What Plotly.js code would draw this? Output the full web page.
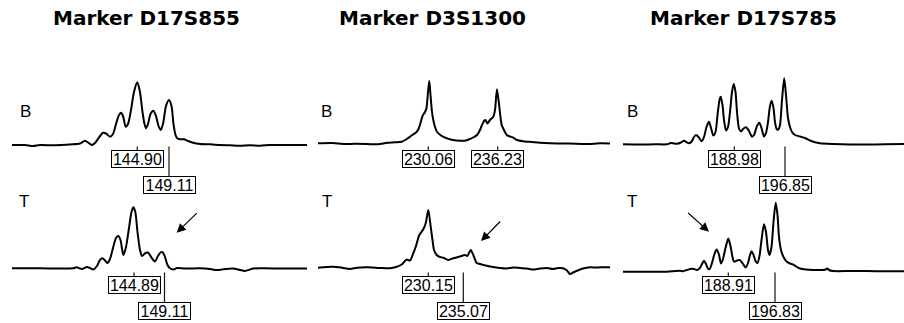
<!DOCTYPE html>
<html>
<head>
<meta charset="utf-8">
<script src="https://cdn.plot.ly/plotly-3.0.1.min.js"></script>
<style>html,body{margin:0;padding:0;background:#fff;}#chart{width:904px;height:323px;}</style>
</head>
<body>
<div id="chart"></div>
<script>
// ---- Data (scan position, signal) ----
const markers = ['Marker D17S855', 'Marker D3S1300', 'Marker D17S785'];
const rowNames = ['B', 'T'];

// Marker D17S855
const scanB1 = [12,25,33,40,55,70,80,85,88,91.7,95,100,103,106,110,113,116,119,121,123,125.7,128,131,134,137.3,140,142.5,144.5,146,148,150.5,153.3,156,158.5,160.7,163,166,169,171.5,173.5,175.5,177.3,180,184,188,193,200,210,220,230,240,250,260,270,280,290,307];
const sigB1 = [1,1,0,1,0.7,1.5,2.5,5.3,3.5,1,3,10,13.3,12.5,9.3,12,22,31,33.3,30,19.3,22,36,54,63.7,54,34,22,17.7,22,32,35.3,30,20,16,22,40,46,40,22,11,7.7,6.7,6.7,5,3.3,2,1.7,1,0.7,0.3,0.7,0.3,1,1,1,1];
const scanT1 = [12,40,73,76.7,80,82,87,90,93.3,97,100,102.3,105,107.3,110,113,116,118.3,120.5,123.3,126,129,131.5,133.3,135.3,137.5,140,142,145.5,148,151.7,155,158,160.5,162.7,165,167.5,170,173.3,177,185,200,210,216.7,225,233,240,245,250,253,265,280,300,307];
const sigT1 = [3.7,3.7,3.7,4.7,3.5,3,5,4,2.5,6,12,13.7,11.5,9,13,24,34,36,32,17,25,44,60,64.7,60,40,22,16,19,19.5,14,10.5,16,19.5,19.7,15,7,3.7,2.5,4,3.5,3.7,3,2,3,3.5,2,1,2.5,3.5,3.7,3.5,3.5,3.5];

// Marker D3S1300
const scanB2 = [318,333,343,355,367,378,387,395,401.7,406,410,413,416,418.5,420.5,422.5,425,426.5,428,429.3,430.5,432,433.3,435,437,441,446.7,453,460,466,470,474,477,480,482,484,485.5,487.3,490,493.3,495,497,499.3,501.7,504,506.7,510,513,517,523,530,540,550,570,587,600,610];
const sigB2 = [2.7,3,2,2.2,2,1.7,3.2,3.7,4.3,6.5,9.3,11.5,13.5,17,23,30,34,38,54,65,51,34,26,19,14.3,10.5,7.7,6,5.3,5.5,7,9,11,16,21,25,26,22.5,26,29.3,36,56.7,39.3,21,16,11,9.5,8.5,6,4.7,4.2,3.2,2.7,2.4,2,2.7,2.5];
const scanT2 = [318,333,342,350,357,367,380,390,396,401.7,405,406.7,410,413,416,419.3,423.3,425.7,428.3,430.7,432.5,434,436.7,440,443.3,448.3,453.3,460,465,467.3,470.7,473.3,476.7,480,486.7,493,500,506.7,513,520,527,533,540,547,553,558,563,567,570,573,577,583,590,596,600,610];
const sigT2 = [4.3,5.3,4.3,3,4.3,4.7,4,3.7,5,7.5,11,12.5,11.5,18,26,37,42.7,48.7,62,45.3,32,22,17,15,14.3,12,13.7,15.5,17,16,22,17,9,8,6.3,5,4,3.5,4.5,4,3.5,2.5,3.5,4,3,4,3.7,1.5,-2,-0.5,1.3,3.5,4.7,4.5,4.7,4.7];

// Marker D17S785
const scanB3 = [623,640,655,667,670.7,674,677,681,684,687,689,692,694,696,698.5,701.7,704,706.5,709,711,713.3,715.5,717.5,719.5,720.7,722.5,724,726,728,730,732,733.7,735.5,737,739,741,743,746,749,752,754,757,759.3,761.5,764,766,768,770,771.7,773.5,775,776.7,778.3,780,782,784.2,786,788,790,792,795,800,805,810,815,820,833,850,867,885,904];
const sigB3 = [1.7,1.5,1.7,1.7,3,2.5,2.2,3.5,5.3,3.5,2.7,5,9,11,9,4.7,9,19,24.3,18,10.5,14,31,46,49.3,41,26,15.5,19,34,54,62,54,34,17.5,14.5,17,18.7,15,9.3,11,20,23.3,18,9.5,13,24,40,45.3,38,24,17,16.5,21,46,67.7,51,28,19,14,11,9.5,8,5.5,3.7,2.7,2,1.5,1.5,1.7,2];
const scanT3 = [623,640,667,675,680,683,687,691.7,694,697,700,702,704,706,708,709.5,712,714.5,716.7,718.8,721,723,725.5,728.3,730.5,732.5,734,737,740,743,745.7,748,750,751.7,753.5,756,757.5,759.5,761.5,764,766,768,769.5,771.5,773.5,775.7,777.5,779,781,783.5,786.5,790,793.3,797,800,806,813,820,825,827.3,829,833,850,867,885,904];
const sigT3 = [0.3,0.3,0.3,1,1.3,0.8,2,3.3,3,2,4,8,11.2,8,3.5,2.8,9,18,22.5,18,8.5,13,24,33.5,26,15,10.3,11.5,11.8,8,4.5,9,17,20.7,17,10,9,16,32,47.7,40,22,17,25,50,69.3,57,35,22,15,10.5,8.5,7.3,5,3.5,2.5,2,2,2.2,3.5,2,1,1,1,0.7,0.7];

// Allele size labels: text, scan position, tier (0 = close, 1 = lower)
const sizeB1 = ['144.90','149.11'], posB1 = [137.3,169], tierB1 = [0,1];
const sizeT1 = ['144.89','149.11'], posT1 = [134,164.5], tierT1 = [0,1];
const sizeB2 = ['230.06','236.23'], posB2 = [428.3,497.7], tierB2 = [0,0];
const sizeT2 = ['230.15','235.07'], posT2 = [428.3,463.3], tierT2 = [0,1];
const sizeB3 = ['188.98','196.85'], posB3 = [734.3,785], tierB3 = [0,1];
const sizeT3 = ['188.91','196.83'], posT3 = [728.3,775], tierT3 = [0,1];

// Arrows in T rows: tip (scan, signal)
const arrowScan = [176.7, 481, 709];
const arrowSig = [39.3, 31, 40.3];

// ---- Build figure ----
const W = 904, H = 323;
const xa = ['x','x2','x3'];
const xDom = [[0,310],[298,612],[598,904]];
const lineStyle = {color:'#000', width:2, shape:'spline', smoothing:0.7};

const series = [
  [scanB1,sigB1,0,'y'],[scanT1,sigT1,0,'y2'],
  [scanB2,sigB2,1,'y'],[scanT2,sigT2,1,'y2'],
  [scanB3,sigB3,2,'y'],[scanT3,sigT3,2,'y2']
];
const data = series.map(s => ({
  x: s[0], y: s[1], xaxis: xa[s[2]], yaxis: s[3],
  type:'scatter', mode:'lines', line: lineStyle, hoverinfo:'skip', showlegend:false
}));

const labelFont = {family:'"Liberation Sans", Arial, sans-serif', size:16, color:'#000'};
const tierCenter = [-12.8, -38.5];
const tierTop = [-3.5, -29.3];

const annotations = [];
const shapes = [];
const labelSets = [
  [sizeB1,posB1,tierB1,0,'y'],[sizeT1,posT1,tierT1,0,'y2'],
  [sizeB2,posB2,tierB2,1,'y'],[sizeT2,posT2,tierT2,1,'y2'],
  [sizeB3,posB3,tierB3,2,'y'],[sizeT3,posT3,tierT3,2,'y2']
];
labelSets.forEach(ls => {
  ls[0].forEach((t,i) => {
    const tier = ls[2][i];
    shapes.push({type:'line', xref:xa[ls[3]], yref:ls[4], x0:ls[1][i], x1:ls[1][i], y0:-0.5, y1:tierTop[tier]-1,
      line:{color:'#111', width:1.2}, layer:'below'});
    annotations.push({xref:xa[ls[3]], yref:ls[4], x:ls[1][i], y:tierCenter[tier], text:t, showarrow:false,
      font:labelFont, bordercolor:'#000', borderwidth:1, borderpad:0, width:51, height:16,
      bgcolor:'rgba(255,255,255,0)', xanchor:'center', yanchor:'middle'});
  });
});

// Titles
const titleX = [146, 432, 743];
markers.forEach((m,i) => annotations.push({xref:'paper', yref:'paper', x:titleX[i]/W, y:1-18/H,
  text:'<b>'+m+'</b>', showarrow:false, xanchor:'center', yanchor:'middle',
  font:{family:'"DejaVu Sans", sans-serif', size:20, color:'#000'}}));

// Row letters
const rowLetterX = [[25,326.7,632.7],[24,326.7,631.7]];
const rowLetterY = [34.3, 70.8];
rowNames.forEach((r,ri) => [0,1,2].forEach(c => annotations.push({
  xref:xa[c], yref: ri===0?'y':'y2', x:rowLetterX[ri][c], y:rowLetterY[ri], text:r, showarrow:false,
  xanchor:'center', yanchor:'middle', font:{family:'"Liberation Sans", Arial, sans-serif', size:17, color:'#000'}})));

// Arrows
const arrowOff = [[21.6,-21],[20.7,-21],[-22.3,-20]];
arrowScan.forEach((s,i) => annotations.push({xref:xa[i], yref:'y2', x:s, y:arrowSig[i], text:'',
  showarrow:true, arrowhead:2, arrowsize:1.5, arrowwidth:1.2, arrowcolor:'#000', standoff:0,
  ax:arrowOff[i][0], ay:arrowOff[i][1]}));

const hidden = {visible:false, fixedrange:true};
const layout = {
  width:W, height:H, margin:{l:0,r:0,t:0,b:0}, paper_bgcolor:'#fff', plot_bgcolor:'rgba(0,0,0,0)',
  showlegend:false,
  xaxis: Object.assign({domain:[xDom[0][0]/W, xDom[0][1]/W], range:xDom[0], anchor:'y'}, hidden),
  xaxis2: Object.assign({domain:[xDom[1][0]/W, xDom[1][1]/W], range:xDom[1], anchor:'y'}, hidden),
  xaxis3: Object.assign({domain:[xDom[2][0]/W, xDom[2][1]/W], range:xDom[2], anchor:'y'}, hidden),
  // B row: baseline at y=146 px, 1 unit = 1 px
  yaxis: Object.assign({domain:[(H-200)/H, (H-40)/H], range:[-54,106], anchor:'x'}, hidden),
  // T row: baseline at y=272 px, 1 unit = 1 px
  yaxis2: Object.assign({domain:[0, (H-180)/H], range:[-51,92], anchor:'x'}, hidden),
  shapes: shapes, annotations: annotations
};
Plotly.newPlot('chart', data, layout, {displayModeBar:false, staticPlot:true});
</script>
</body>
</html>
